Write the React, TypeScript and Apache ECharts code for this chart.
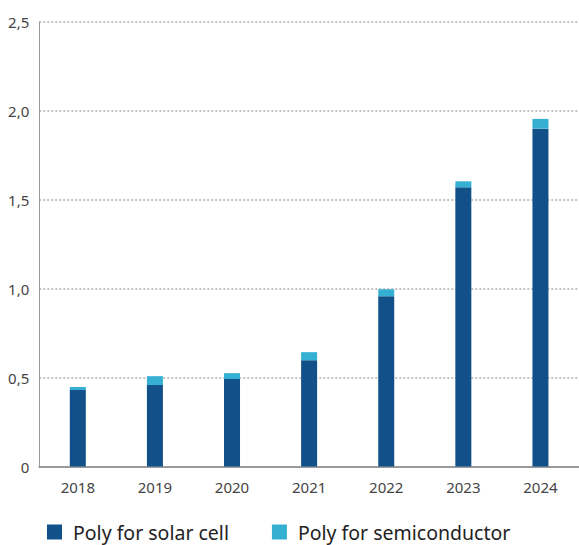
import React, { useEffect, useRef } from "react";
import * as echarts from "echarts";

// Annual volumes by year
const years = ["2018", "2019", "2020", "2021", "2022", "2023", "2024"];
const solarCell = [0.43, 0.458, 0.492, 0.598, 0.958, 1.57, 1.9];
const semiconductor = [0.017, 0.05, 0.033, 0.045, 0.039, 0.034, 0.055];
const yTicks = { min: 0, max: 2.5, interval: 0.5 };

const DARK = "#12508a";
const LIGHT = "#36b0d2";
const FONT = "'Noto Sans', 'Open Sans', sans-serif";

export default function App() {
  const ref = useRef<HTMLDivElement>(null);

  useEffect(() => {
    if (!ref.current) return;
    const chart = echarts.init(ref.current, undefined, { renderer: "svg" });
    chart.setOption({
      animation: false,
      textStyle: { fontFamily: FONT },
      grid: { left: 39.25, right: -3, top: 22, bottom: 78.5, containLabel: false },
      legend: {
        left: 42,
        top: 517,
        itemWidth: 15,
        itemHeight: 15,
        itemGap: 43,
        icon: "rect",
        textStyle: { fontSize: 19.5, color: "#222", fontFamily: FONT, padding: [0, 0, 0, 6] },
        data: ["Poly for solar cell", "Poly for semiconductor"],
      },
      xAxis: {
        type: "category",
        data: years,
        axisLine: { lineStyle: { color: "#9a9a9a", width: 2 } },
        axisTick: { show: false },
        axisLabel: { color: "#444", fontSize: 15, margin: 13 },
      },
      yAxis: {
        type: "value",
        min: yTicks.min,
        max: yTicks.max,
        interval: yTicks.interval,
        axisLine: { show: true, lineStyle: { color: "#9a9a9a", width: 1 } },
        axisTick: { show: false },
        axisLabel: {
          color: "#444",
          fontSize: 15,
          margin: 10,
          formatter: (v: number) => (v === 0 ? "0" : v.toFixed(1).replace(".", ",")),
        },
        splitLine: { lineStyle: { color: "#b0b0b0", width: 1.5, type: [2, 2] } },
      },
      series: [
        {
          name: "Poly for solar cell",
          type: "bar",
          stack: "total",
          barWidth: 16,
          itemStyle: { color: DARK },
          data: solarCell,
        },
        {
          name: "Poly for semiconductor",
          type: "bar",
          stack: "total",
          barWidth: 16,
          itemStyle: { color: LIGHT },
          data: semiconductor,
        },
      ],
    });
    return () => chart.dispose();
  }, []);

  return (
    <div
      ref={ref}
      style={{ position: "absolute", left: 0, top: 0, width: 579, height: 545, background: "#fff" }}
    />
  );
}
